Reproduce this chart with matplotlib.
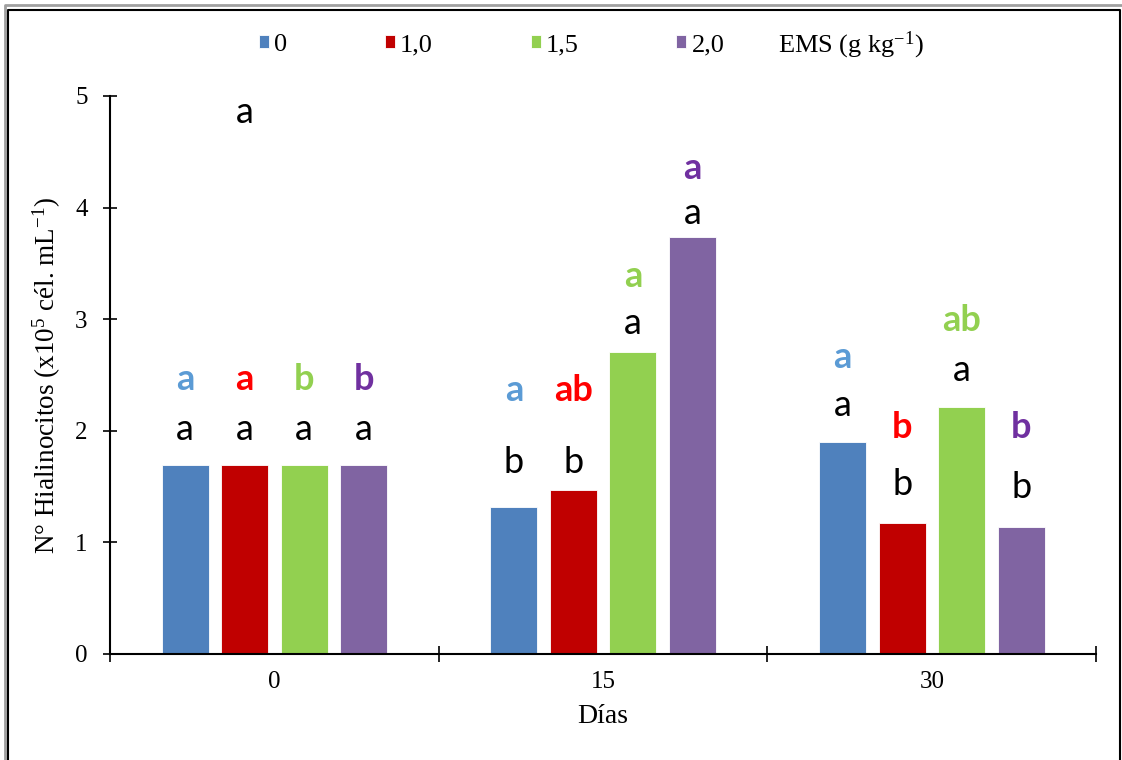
import matplotlib
matplotlib.use("Agg")
import matplotlib.pyplot as plt
import numpy as np

plt.rcParams['font.family'] = ['Liberation Serif', 'DejaVu Serif']
plt.rcParams['mathtext.fontset'] = 'custom'
plt.rcParams['mathtext.rm'] = 'Liberation Serif'
plt.rcParams['mathtext.it'] = 'Liberation Serif:italic'
from matplotlib.lines import Line2D

# datos
dias = ['0', '15', '30']
dosis = ['0', '1,0', '1,5', '2,0']
valores = [
    [1.69, 1.32, 1.90],   # 0
    [1.69, 1.47, 1.17],   # 1,0
    [1.69, 2.71, 2.21],   # 1,5
    [1.69, 3.74, 1.14],   # 2,0
]
# letras (negras = entre días, color = entre dosis)
letras_negras = [
    ['a', 'b', 'a'],
    ['a', 'b', 'b'],
    ['a', 'a', 'a'],
    ['a', 'a', 'b'],
]
letras_color = [
    ['a', 'a', 'a'],
    ['a', 'ab', 'b'],
    ['b', 'a', 'ab'],
    ['b', 'a', 'b'],
]
# altura donde va cada letra
y_negras = [
    [2.01, 1.72, 2.23],
    [2.01, 1.72, 1.52],
    [2.01, 2.96, 2.54],
    [2.01, 3.95, 1.49],
]
y_color = [
    [2.46, 2.36, 2.66],
    [2.46, 2.36, 2.03],
    [2.46, 3.38, 2.99],
    [2.46, 4.35, 2.03],
]

colores = ['#4F81BD', '#C00000', '#92D050', '#8064A2']
colores_letra = ['#5B9BD5', '#FF0000', '#92D050', '#7030A0']
fuente_letras = ['Lato', 'DejaVu Sans']

fig = plt.figure(figsize=(11.22, 7.6), dpi=100)
ax = fig.add_axes([0.098, 0.1395, 0.879, 0.7342])

x = np.arange(len(dias))
ancho = 0.143
paso = 0.181
for i in range(len(dosis)):
    pos = x + (i - 1.5) * paso
    ax.bar(pos, valores[i], ancho, color=colores[i], edgecolor='white',
           linewidth=0.6, label=dosis[i])
    for j in range(len(dias)):
        ax.text(pos[j], y_negras[i][j], letras_negras[i][j], ha='center',
                va='center', fontsize=26, family=fuente_letras, color='black')
        ax.text(pos[j], y_color[i][j], letras_color[i][j], ha='center',
                va='center', fontsize=26, family=fuente_letras,
                fontweight='bold', color=colores_letra[i])

# letra suelta arriba
ax.text(x[0] - 0.5 * paso, 4.85, 'a', ha='center', va='center', fontsize=26,
        family=fuente_letras, color='black')

ax.set_ylim(0, 5)
ax.set_xlim(-0.5, 2.5)
ax.set_yticks(range(6))
ax.set_xticks([-0.5, 0.5, 1.5, 2.5])
ax.set_xticklabels([])
ax.set_xticks(x, minor=True)
ax.set_xticklabels(dias, minor=True)
ax.tick_params(axis='x', which='major', direction='inout', length=12, width=1.2)
ax.tick_params(axis='x', which='minor', length=0, pad=12, labelsize=18)
ax.tick_params(axis='y', direction='inout', length=10, width=1.2, pad=11,
               labelsize=18)
for s in ['top', 'right']:
    ax.spines[s].set_visible(False)
for s in ['left', 'bottom']:
    ax.spines[s].set_linewidth(1.5)

ax.set_ylabel('N° Hialinocitos (x10$^5$ cél. mL$^{-1}$)', fontsize=19.5, labelpad=9)
ax.set_xlabel('Días', fontsize=20, labelpad=8)

ax.legend(ncol=4, loc='center', bbox_to_anchor=(0.387, 1.091),
          frameon=False, fontsize=19, handlelength=0.38, handleheight=0.38,
          handletextpad=0.2, columnspacing=3.7)
ax.text(0.6775, 1.091, 'EMS (g kg$^{-1}$)', transform=ax.transAxes,
        ha='left', va='center', fontsize=19)

# marco de la figura
fig.add_artist(Line2D([0.0045, 0.0045, 1], [0, 0.9935, 0.9935],
                      transform=fig.transFigure, color='#A0A0A0', lw=2))
fig.add_artist(Line2D([0.0072, 0.0072, 0.9985, 0.9985], [0, 0.9875, 0.9875, 0],
                      transform=fig.transFigure, color='black', lw=1.5))

fig.savefig('out.png', dpi=100)
